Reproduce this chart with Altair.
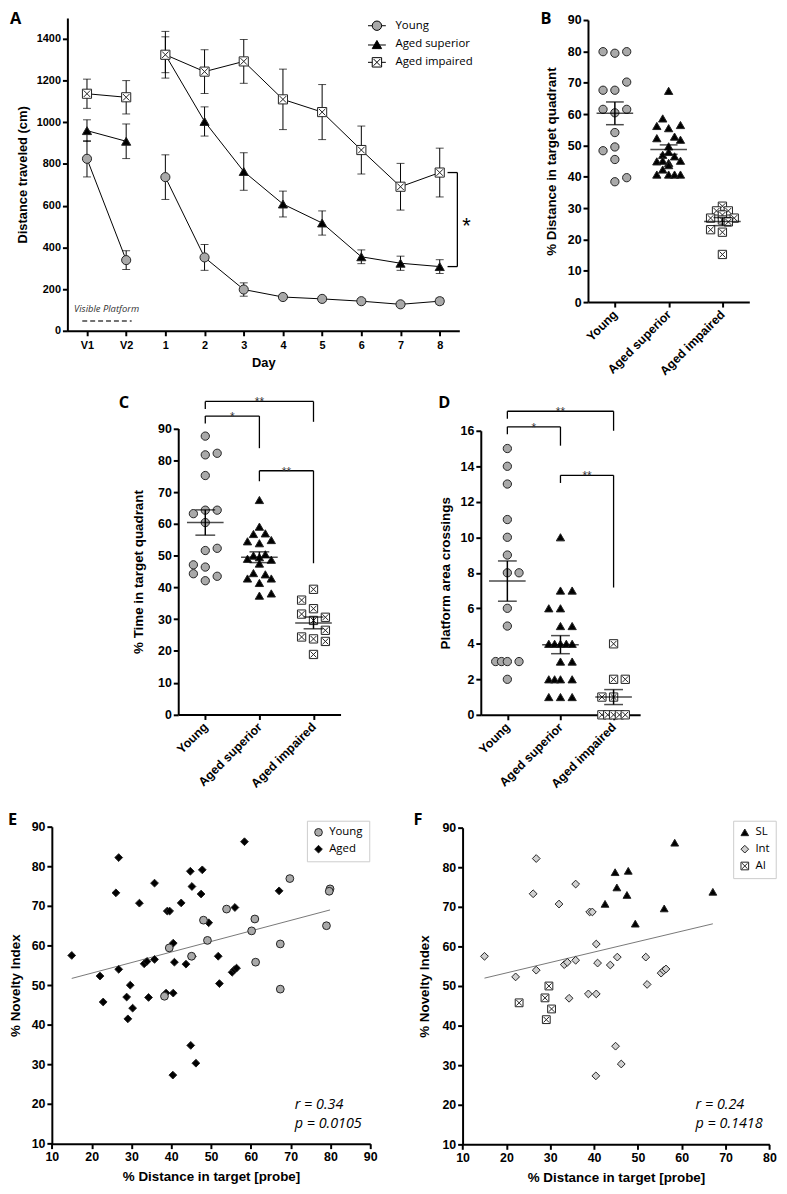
import json
import altair as alt
import pandas as pd

LABEL_FONT = "Liberation Sans"
NOTE_FONT = "Open Sans"

# ---------------- Panel A : distance travelled per day ----------------
days = ["V1", "V2", "1", "2", "3", "4", "5", "6", "7", "8"]
day_session = ["visible", "visible", "hidden", "hidden", "hidden",
               "hidden", "hidden", "hidden", "hidden", "hidden"]
groups = ["Young", "Aged superior", "Aged impaired"]
young_mean = [825, 339, 737, 352, 198, 162, 153, 142, 127, 142]
young_sem = [87, 45, 107, 62, 32, 12, 10, 10, 10, 15]
superior_mean = [960, 909, 1324, 1004, 764, 608, 517, 355, 324, 308]
superior_sem = [52, 83, 86, 70, 90, 62, 58, 33, 34, 33]
impaired_mean = [1137, 1120, 1324, 1243, 1292, 1110, 1049, 867, 691, 759]
impaired_sem = [70, 80, 112, 105, 105, 145, 132, 115, 112, 117]
a_ticks = [0, 200, 400, 600, 800, 1000, 1200, 1400]
a_domain = [0, 1500]
visible_span = [-0.12, 1.14]
visible_level = [47]
visible_label_pos = [0.5, 104]
sig_a = {"x": [9.45], "x_in": [9.2], "lo": [308], "hi": [759], "star_x": [9.68], "star_y": [522]}

# ---------------- Panel B : % distance in target quadrant ----------------
b_young = [79.9, 79.4, 79.9, 67.6, 67.6, 70.2, 61.5, 60.4, 61.5, 54.1, 48.3, 49.5, 45.5, 38.4, 39.7]
b_young_col = [-2, 0, 2, -2, 0, 2, -2, 0, 2, 0, -2, 0, 0, 0, 2]
b_sup = [67.4, 58.6, 56.2, 55.5, 56.5, 52.3, 52.8, 51.8, 49.7, 47.0, 47.9, 46.5,
         44.9, 45.1, 44.4, 45.1, 42.3, 43.7, 40.7, 40.7, 40.7, 40.7]
b_sup_col = [0, -1, -2, 0, 2, -2, 1, 2, 0, -1, 0, 1, -2, -1, 0, 2, -1, 0, -2, 0, 1, 2]
b_imp = [30.6, 29.1, 29.1, 27.8, 26.8, 26.2, 26.8, 25.6, 23.1, 22.3, 15.2]
b_imp_col = [0, -1, 1, 0, -2, 0, 2, 1, -2, 0, 0]

# ---------------- Panel C : % time in target quadrant ----------------
c_young = [87.6, 81.7, 82.2, 75.2, 63.2, 64.3, 64.3, 60.4, 51.6, 52.3, 47.1, 46.4, 44.3, 43.5, 42.1]
c_young_col = [0, 0, 2, 0, -2, 0, 2, 0, 0, 2, -2, 0, -2, 2, 0]
c_sup = [67.5, 59.1, 56.8, 57.0, 54.5, 53.9, 54.9, 50.0, 50.4, 49.0, 49.5, 48.7,
         47.5, 44.5, 44.1, 42.8, 42.8, 41.4, 37.4, 38.1]
c_sup_col = [0, 0, -1, 1, -2, 0, 2, -1, 1, -2, 0, 2, 0, -1, 1, -2, 2, 0, 0, 2]
c_imp = [39.4, 36.0, 33.3, 31.6, 30.6, 29.6, 26.5, 24.4, 23.8, 23.0, 18.9]
c_imp_col = [0, -2, 0, -2, 2, 0, 2, -2, 0, 2, 0]
c_brackets = {"x1": [0, 0, 1], "x2": [2, 1, 2], "y": [98.5, 93.9, 76.7],
              "ly": [96.1, 91.6, 73.4], "ry": [92.1, 83.8, 47.6], "label": ["**", "*", "**"]}

# ---------------- Panel D : platform area crossings ----------------
d_young = [15, 14, 13, 11, 10, 9, 8, 8, 6, 5, 3, 3, 3, 3, 2]
d_young_col = [0, 0, 0, 0, 0, 0, 0, 2, 0, 0, -2, -1, 0, 2, 0]
d_sup = [10, 7, 7, 6, 6, 5, 5, 4, 4, 4, 4, 4, 3, 3, 2, 2, 2, 2, 1, 1, 1]
d_sup_col = [0, 0, 2, -2, 0, 0, 2, -2, -1, 0, 1, 2, 0, 2, -2, -1, 0, 2, -2, 0, 2]
d_imp = [4, 2, 2, 1, 1, 0, 0, 0, 0, 0]
d_imp_col = [0, 0, 2, -2, 0, -2, -1, 0, 1, 2]
d_brackets = {"x1": [0, 0, 1], "x2": [2, 1, 2], "y": [17.10, 16.22, 13.49],
              "ly": [16.68, 15.81, 13.06], "ry": [16.0, 15.16, 7.17], "label": ["**", "*", "**"]}

# ---------------- Panels E / F : novelty index vs probe ----------------
young_x = [79.9, 79.7, 69.8, 79.0, 53.9, 48.1, 49.1, 61.0, 60.2, 67.4, 61.2, 67.4, 39.5, 45.1, 38.3]
young_y = [74.3, 73.7, 76.9, 65.0, 69.2, 66.4, 61.3, 66.7, 63.7, 60.4, 55.8, 49.0, 59.4, 57.3, 47.2]
sl_x = [44.8, 47.8, 45.2, 47.5, 42.5, 49.4, 56.0, 58.4, 67.1]
sl_y = [78.75, 79.1, 74.9, 73.0, 70.75, 65.75, 69.6, 86.2, 73.8]
int_x = [15.0, 22.1, 26.8, 26.1, 26.8, 32.0, 35.8, 33.2, 33.9, 35.8, 34.3, 39.0, 39.6, 40.5,
         40.8, 38.7, 40.5, 40.4, 43.7, 45.3, 44.9, 46.2, 51.8, 52.1, 55.3, 55.9, 56.4]
int_y = [57.5, 52.3, 82.2, 73.3, 54.0, 70.7, 75.75, 55.4, 56.0, 56.5, 46.9, 68.7, 68.7, 60.6,
         55.8, 48.0, 48.0, 27.3, 55.3, 57.3, 34.8, 30.3, 57.3, 50.4, 53.25, 53.9, 54.3]
ai_x = [22.9, 28.8, 29.1, 29.7, 30.3]
ai_y = [45.75, 47.0, 41.5, 50.0, 44.2]
e_groups = ["Young", "Aged"]
f_groups = ["SL", "Int", "AI"]
e_stats = ["r = 0.34", "p = 0.0105"]
f_stats = ["r = 0.24", "p = 0.1418"]

# ---------------- styles / layout (pixels inside the 779 x 1186 canvas) ----------------
W, H = 779, 1186
SQX = "M-1,-1H1V1H-1Z M-0.72,-0.72L0.72,0.72 M0.72,-0.72L-0.72,0.72"
LEG_CIRCLE = "M-1.9,0H-1 M1,0H1.9 M-1,0A1,1 0 1,1 1,0A1,1 0 1,1 -1,0Z"
LEG_TRI = "M-1.9,0.1H-0.5 M0.5,0.1H1.9 M0,-0.87L1,0.87L-1,0.87Z"
LEG_SQX = "M-1.9,0H-1 M1,0H1.9 M-1,-1H1V1H-1Z M-0.72,-0.72L0.72,0.72 M0.72,-0.72L-0.72,0.72"
GROUP_FILL = ["#a9a9a9", "black", "white"]
GROUP_SHAPE = ["circle", "triangle-up", SQX]
STROKE = "#222222"
JIT = 0.11

BOX = {  # x range (left, right), y range (bottom, top)
    "A": ((60, 456), (320, 4)),
    "B": ((586, 749), (291, 6)),
    "C": ((172, 336), (707.7, 418.7)),
    "D": ((477.7, 638.7), (708, 421)),
    "E": ((44.3, 366), (1141.3, 821)),
    "F": ((459.3, 769.3), (1142, 822)),
}

AXIS_STYLE = dict(domainColor="black", tickColor="black", labelColor="black", titleColor="black",
                  labelFont=LABEL_FONT, titleFont=LABEL_FONT, labelFontWeight="bold",
                  titleFontWeight="bold", domainWidth=2, tickWidth=2, tickSize=5, grid=False,
                  labelFontSize=12.5, titleFontSize=13.5, format="d")


def axis(**kw):
    d = dict(AXIS_STYLE)
    d.update(kw)
    return alt.Axis(**d)


dummy = pd.DataFrame({"k": [0]})


def offsets(p):
    (x0, x1), (y0, y1) = BOX[p]
    return -x0, y0 - H


def letter(txt, x, y):
    return alt.Chart(dummy).mark_text(text=txt, font=NOTE_FONT, fontWeight="bold", fontSize=16.5,
                                      align="left", baseline="alphabetic", color="black").encode(
        x=alt.value(x), y=alt.value(y))


# ================= Panel A =================
rows = []
for g, means, sems in zip(groups, [young_mean, superior_mean, impaired_mean],
                          [young_sem, superior_sem, impaired_sem]):
    for i, (d, s, m, e) in enumerate(zip(days, day_session, means, sems)):
        rows.append({"group": g, "i": i, "day": d, "session": s, "mean": m, "sem": e})
dfA = pd.DataFrame(rows)

XSA = alt.Scale(domain=[-0.5, len(days) - 0.5], range=list(BOX["A"][0]), nice=False, zero=False)
YSA = alt.Scale(domain=a_domain, range=list(BOX["A"][1]), nice=False, zero=False)
offAy, offAx = offsets("A")
A_XAXIS = axis(orient="bottom", offset=offAx, values=list(range(len(days))),
               labelExpr=json.dumps(days) + "[datum.value]", title="Day", labelFontSize=11,
               titleFontSize=13, titlePadding=6, labelFlush=False, labelOverlap=False, labelPadding=4)
A_YAXIS = axis(orient="left", offset=offAy, values=a_ticks, title="Distance traveled (cm)",
               labelFontSize=11, titleFontSize=13, titlePadding=7)


def ax(field):
    return alt.X(field, scale=XSA, axis=A_XAXIS)


def ay(field):
    return alt.Y(field, scale=YSA, axis=A_YAXIS)


baseA = alt.Chart(dfA).transform_calculate(lo="datum.mean - datum.sem", hi="datum.mean + datum.sem")
a_err = baseA.mark_rule(color="black", strokeWidth=1).encode(x=ax("i:Q"), y=ay("lo:Q"), y2="hi:Q")
a_caps = baseA.transform_fold(["lo", "hi"], as_=["k", "v"]).mark_tick(
    orient="horizontal", size=8, thickness=1, color="black").encode(x=ax("i:Q"), y=ay("v:Q"))
a_lines = alt.Chart(dfA).mark_line(color="black", strokeWidth=1).encode(
    x=ax("i:Q"), y=ay("mean:Q"), detail=["group:N", "session:N"])
a_points = alt.Chart(dfA).mark_point(opacity=1, size=85, stroke=STROKE, strokeWidth=1).encode(
    x=ax("i:Q"), y=ay("mean:Q"),
    shape=alt.Shape("group:N", scale=alt.Scale(domain=groups, range=GROUP_SHAPE), legend=None),
    fill=alt.Fill("group:N", scale=alt.Scale(domain=groups, range=GROUP_FILL), legend=None))
legA = alt.Legend(orient="none", legendX=367, legendY=6, title=None, symbolSize=90, padding=0,
                  labelFont=NOTE_FONT, labelFontSize=11.5, labelColor="black", labelOffset=13,
                  rowPadding=5, symbolStrokeWidth=1)
a_legend = alt.Chart(dfA).transform_filter("false").mark_point(
    opacity=1, strokeWidth=1).encode(
    x=ax("i:Q"), y=ay("mean:Q"),
    shape=alt.Shape("group:N", scale=alt.Scale(domain=groups, range=[LEG_CIRCLE, LEG_TRI, LEG_SQX]),
                    legend=legA),
    fill=alt.Fill("group:N", scale=alt.Scale(domain=groups, range=GROUP_FILL), legend=legA),
    stroke=alt.Stroke("group:N", scale=alt.Scale(domain=groups, range=["black"] * 3), legend=legA))
dfVis = pd.DataFrame({"x1": [visible_span[0]], "x2": [visible_span[1]], "y": visible_level,
                      "lx": [visible_label_pos[0]], "ly": [visible_label_pos[1]]})
a_vis = alt.Chart(dfVis).mark_rule(strokeDash=[5, 3], color="#444", strokeWidth=1.3).encode(
    x=ax("x1:Q"), x2="x2:Q", y=ay("y:Q"))
a_vis_t = alt.Chart(dfVis).mark_text(text="Visible Platform", font=NOTE_FONT, fontStyle="italic",
                                     fontSize=9.5, color="#333").encode(x=ax("lx:Q"), y=ay("ly:Q"))
dfSig = pd.DataFrame(sig_a)
a_sig_v = alt.Chart(dfSig).mark_rule(color="black", strokeWidth=1.3).encode(
    x=ax("x:Q"), y=ay("lo:Q"), y2="hi:Q")
dfSigH = pd.DataFrame({"x": sig_a["x"] * 2, "x_in": sig_a["x_in"] * 2, "y": sig_a["lo"] + sig_a["hi"]})
a_sig_h = alt.Chart(dfSigH).mark_rule(color="black", strokeWidth=1.3).encode(
    x=ax("x_in:Q"), x2="x:Q", y=ay("y:Q"))
a_star = alt.Chart(dfSig).mark_text(text="*", font=LABEL_FONT, fontSize=22, baseline="middle",
                                    color="black", dy=4).encode(x=ax("star_x:Q"), y=ay("star_y:Q"))

panelA = alt.layer(a_err, a_caps, a_lines, a_points, a_legend, a_vis, a_vis_t, a_sig_v, a_sig_h,
                   a_star, letter("A", 2, 10.3)).resolve_scale(
    shape="independent", fill="independent", stroke="independent")


# ================= dot panels B, C, D =================
def dot_panel(p, let_xy, vals, cols, ydom, yticks, ytitle, tpad, brackets=None, mean_w=36, cap_w=18):
    recs = []
    for gi, (g, vs, cs) in enumerate(zip(groups, vals, cols)):
        for v, c in zip(vs, cs):
            recs.append({"group": g, "gi": gi, "col": c, "v": v})
    df = pd.DataFrame(recs)
    offy, offx = offsets(p)
    xs = alt.Scale(domain=[-0.5, 2.5], range=list(BOX[p][0]), nice=False, zero=False)
    ys = alt.Scale(domain=ydom, range=list(BOX[p][1]), nice=False, zero=False)
    xaxis = axis(orient="bottom", offset=offx, values=[0, 1, 2],
                 labelExpr=json.dumps(groups) + "[datum.value]",
                 labelAngle=-45, labelAlign="right", labelBaseline="middle",
                 labelOverlap=False, labelFlush=False, title=None, labelPadding=5)
    yaxis = axis(orient="left", offset=offy, values=yticks, title=ytitle, titlePadding=tpad)

    def X(f):
        return alt.X(f, scale=xs, axis=xaxis)

    def Y(f):
        return alt.Y(f, scale=ys, axis=yaxis)

    pts = alt.Chart(df).transform_calculate(xp="datum.gi + datum.col * %f" % JIT).mark_point(
        opacity=1, size=70, stroke=STROKE, strokeWidth=1).encode(
        x=X("xp:Q"), y=Y("v:Q"),
        shape=alt.Shape("group:N", scale=alt.Scale(domain=groups, range=GROUP_SHAPE), legend=None),
        fill=alt.Fill("group:N", scale=alt.Scale(domain=groups, range=GROUP_FILL), legend=None))
    agg = alt.Chart(df).transform_aggregate(m="mean(v)", se="stderr(v)", groupby=["gi"]).transform_calculate(
        lo="datum.m - datum.se", hi="datum.m + datum.se")
    mean_t = agg.mark_tick(orient="horizontal", size=mean_w, thickness=1.5, color="black").encode(
        x=X("gi:Q"), y=Y("m:Q"))
    sem_r = agg.mark_rule(color="black", strokeWidth=1.5).encode(x=X("gi:Q"), y=Y("lo:Q"), y2="hi:Q")
    sem_c = agg.transform_fold(["lo", "hi"], as_=["k", "val"]).mark_tick(
        orient="horizontal", size=cap_w, thickness=1.5, color="black").encode(x=X("gi:Q"), y=Y("val:Q"))
    layers = [pts, mean_t, sem_r, sem_c]
    if brackets:
        dfb = pd.DataFrame(brackets)
        layers.append(alt.Chart(dfb).mark_rule(color="black", strokeWidth=1.3).encode(
            x=X("x1:Q"), x2="x2:Q", y=Y("y:Q")))
        layers.append(alt.Chart(dfb).mark_rule(color="black", strokeWidth=1.3).encode(
            x=X("x1:Q"), y=Y("y:Q"), y2="ly:Q"))
        layers.append(alt.Chart(dfb).mark_rule(color="black", strokeWidth=1.3).encode(
            x=X("x2:Q"), y=Y("y:Q"), y2="ry:Q"))
        layers.append(alt.Chart(dfb).transform_calculate(xm="(datum.x1 + datum.x2) / 2").mark_text(
            font=LABEL_FONT, fontSize=12, color="#333", baseline="alphabetic", dy=5).encode(
            x=X("xm:Q"), y=Y("y:Q"), text="label:N"))
    layers.append(letter(p, *let_xy))
    return alt.layer(*layers)


panelB = dot_panel("B", (538, 10.3), [b_young, b_sup, b_imp], [b_young_col, b_sup_col, b_imp_col],
                   [0, 90], list(range(0, 91, 10)), "% Distance in target quadrant", 9,
                   mean_w=37, cap_w=18)
panelC = dot_panel("C", (112, 397.7), [c_young, c_sup, c_imp], [c_young_col, c_sup_col, c_imp_col],
                   [0, 90], list(range(0, 91, 10)), "% Time in target quadrant", 12,
                   brackets=c_brackets, mean_w=37, cap_w=20)
panelD = dot_panel("D", (434.7, 397.7), [d_young, d_sup, d_imp], [d_young_col, d_sup_col, d_imp_col],
                   [0, 16], list(range(0, 17, 2)), "Platform area crossings", 8,
                   brackets=d_brackets, mean_w=37, cap_w=19)


# ================= scatter panels E, F =================
def scatter_panel(p, let_xy, df, gdom, shapes, fills, xdom, xticks, leg_xy, stats, st_xy, tpad):
    offy, offx = offsets(p)
    xs = alt.Scale(domain=xdom, range=list(BOX[p][0]), nice=False, zero=False)
    ys = alt.Scale(domain=[10, 90], range=list(BOX[p][1]), nice=False, zero=False)
    xaxis = axis(orient="bottom", offset=offx, values=xticks, title="% Distance in target [probe]",
                 titlePadding=7, labelFlush=False)
    yaxis = axis(orient="left", offset=offy, values=list(range(10, 91, 10)), title="% Novelty Index",
                 titlePadding=tpad)
    leg = alt.Legend(orient="none", legendX=leg_xy[0], legendY=leg_xy[1], title=None,
                     strokeColor="#cccccc", fillColor="white", padding=6, symbolSize=60,
                     labelFont=NOTE_FONT, labelFontSize=11.5, labelColor="black", labelOffset=5,
                     rowPadding=4, symbolStrokeWidth=1)
    reg = alt.Chart(df).transform_regression("x", "y").mark_line(color="#777", strokeWidth=1).encode(
        x=alt.X("x:Q", scale=xs, axis=xaxis), y=alt.Y("y:Q", scale=ys, axis=yaxis))
    pts = alt.Chart(df).mark_point(opacity=1, size=62, strokeWidth=1).encode(
        x=alt.X("x:Q", scale=xs, axis=xaxis), y=alt.Y("y:Q", scale=ys, axis=yaxis),
        shape=alt.Shape("grp:N", scale=alt.Scale(domain=gdom, range=shapes), legend=leg),
        fill=alt.Fill("grp:N", scale=alt.Scale(domain=gdom, range=fills), legend=leg),
        stroke=alt.Stroke("grp:N", scale=alt.Scale(domain=gdom, range=[STROKE] * len(gdom)), legend=leg),
        order=alt.Order("o:Q"))
    texts = [alt.Chart(dummy).mark_text(text=s, font=NOTE_FONT, fontStyle="italic", fontSize=14.5,
                                        align="left", baseline="alphabetic", color="black").encode(
        x=alt.value(st_xy[0]), y=alt.value(st_xy[1] + k * 19)) for k, s in enumerate(stats)]
    return alt.layer(reg, pts, *texts, letter(p, *let_xy))


aged_x = sl_x + int_x + ai_x
aged_y = sl_y + int_y + ai_y
dfE = pd.DataFrame({"x": aged_x + young_x, "y": aged_y + young_y,
                    "grp": ["Aged"] * len(aged_x) + ["Young"] * len(young_x)})
dfE["o"] = range(len(dfE))
dfF = pd.DataFrame({"x": aged_x, "y": aged_y,
                    "grp": ["SL"] * len(sl_x) + ["Int"] * len(int_x) + ["AI"] * len(ai_x)})
dfF["o"] = range(len(dfF))

panelE = scatter_panel("E", (0, 819.7), dfE, e_groups, ["circle", "diamond"], ["#a9a9a9", "black"],
                       [10, 90], list(range(10, 91, 10)), (302, 815), e_stats, (289.7, 1106), 9)
panelF = scatter_panel("F", (409.7, 819.7), dfF, f_groups, ["triangle-up", "diamond", SQX],
                       ["black", "#d0d0d0", "white"], [10, 80], list(range(10, 81, 10)),
                       (732.7, 815), f_stats, (694.7, 1106), 11)

# ================= single canvas =================
chart = alt.layer(panelA, panelB, panelC, panelD, panelE, panelF).resolve_scale(
    x="independent", y="independent", shape="independent", fill="independent", stroke="independent"
).resolve_axis(x="independent", y="independent").properties(
    width=W, height=H, autosize=alt.AutoSizeParams(type="none"), padding=0
).configure_view(stroke=None)

chart.save("out.html", embed_options={"renderer": "svg", "actions": False})
